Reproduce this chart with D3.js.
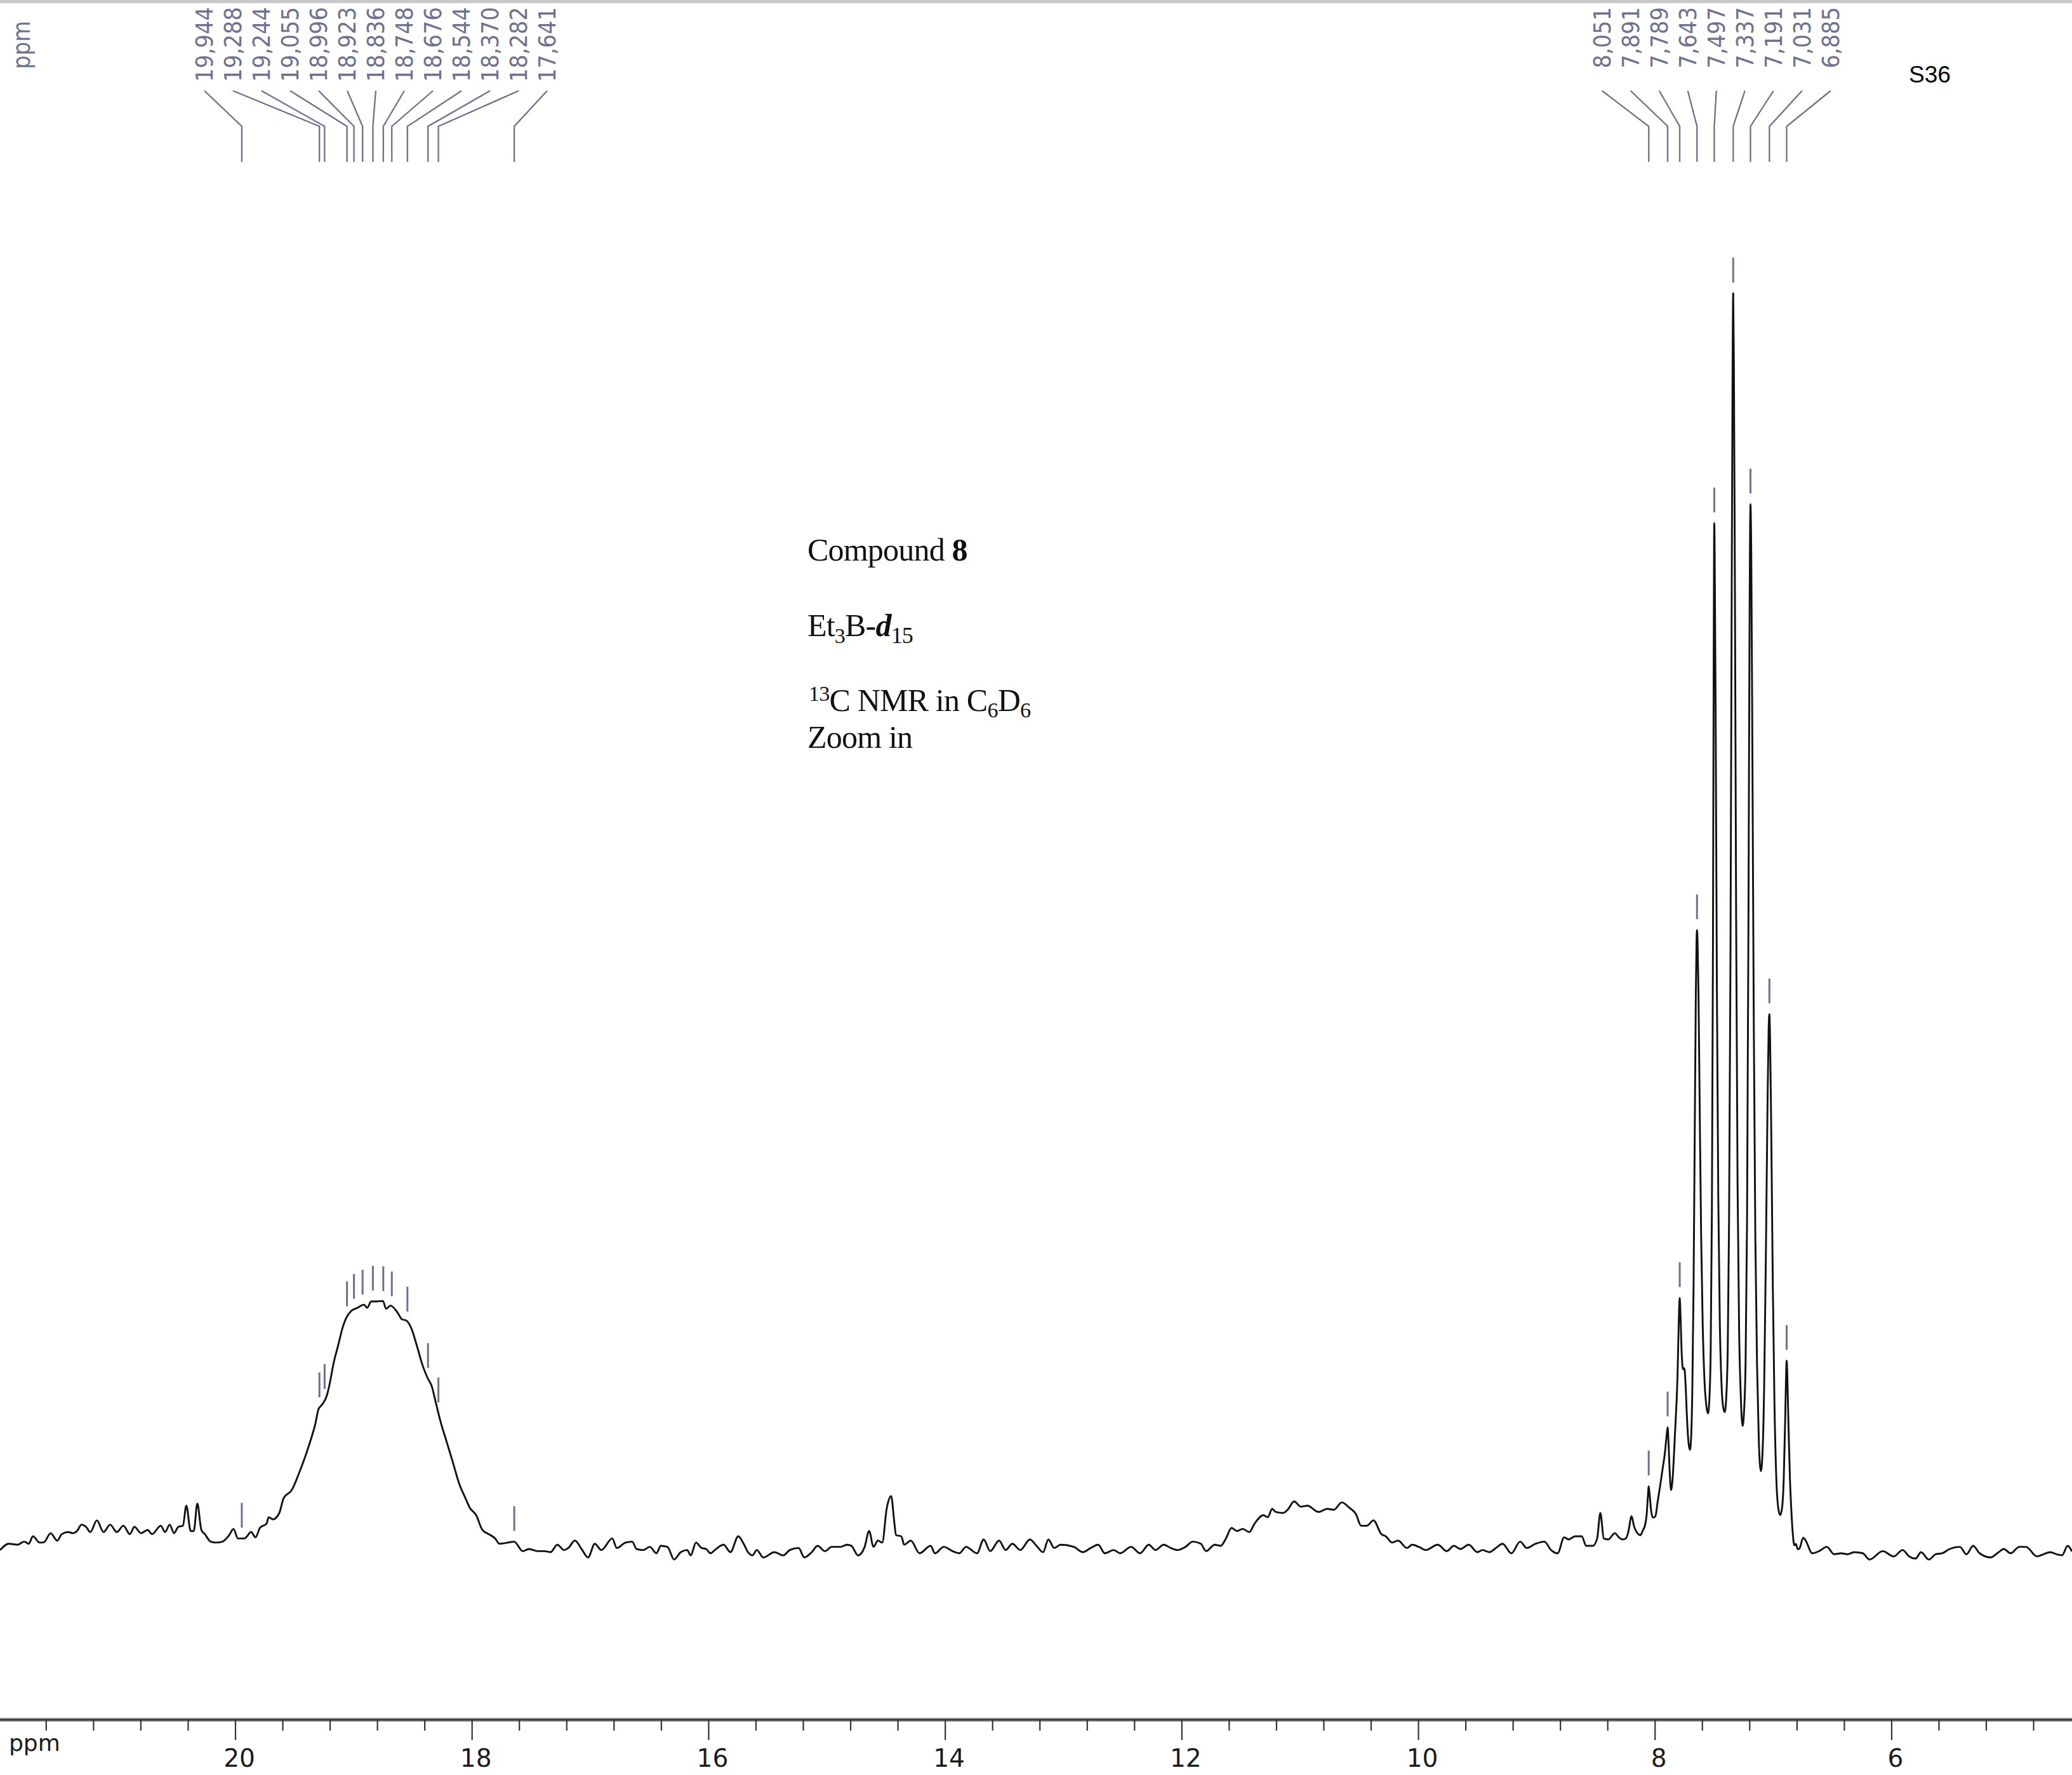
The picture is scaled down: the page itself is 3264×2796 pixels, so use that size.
<!DOCTYPE html>
<html><head><meta charset="utf-8">
<script src="https://cdn.jsdelivr.net/npm/d3@7"></script>
<style>html,body{margin:0;padding:0;background:#fff;}svg{display:block;}</style>
</head><body>
<script>
// ---------------- DATA (ppm, relative intensity) ----------------
const baselineLeft = [[21.988,-0.09],[21.913,0.42],[21.839,0.34],[21.783,0.59],[21.746,0.42],[21.709,1.01],[21.653,0.51],[21.616,0.54],[21.560,1.26],[21.504,0.67],[21.466,1.18],[21.411,1.35],[21.374,1.26],[21.337,1.43],[21.299,1.94],[21.262,1.77],[21.224,1.35],[21.169,2.28],[21.113,1.35],[21.057,1.94],[21.001,1.35],[20.945,1.85],[20.890,1.18],[20.852,1.77],[20.796,1.26],[20.740,1.52],[20.703,1.18],[20.629,1.85],[20.592,1.35],[20.554,1.94],[20.517,1.26],[20.480,1.77],[20.442,1.85],[20.413,3.45],[20.376,1.43],[20.350,1.43],[20.320,3.62],[20.286,1.52],[20.256,1.18],[20.208,0.59],[20.164,0.51],[20.107,0.59],[20.051,1.10],[20.014,1.60],[19.977,0.84],[19.922,0.84],[19.865,1.35],[19.828,0.93],[19.791,1.68],[19.735,2.02],[19.717,2.53],[19.681,2.36],[19.627,2.87]];
const broadPeak = [[19.591,4.04],[19.520,4.72],[19.466,5.90],[19.412,7.25],[19.359,8.76],[19.323,9.94],[19.296,11.12],[19.269,11.46],[19.225,12.22],[19.198,13.31],[19.171,14.66],[19.126,16.35],[19.090,17.69],[19.063,18.37],[19.019,18.96],[18.965,19.21],[18.912,19.46],[18.885,19.21],[18.849,19.72],[18.804,19.72],[18.751,19.75],[18.724,19.13],[18.688,19.38],[18.625,18.79],[18.590,18.29],[18.554,18.20],[18.509,17.53],[18.464,16.18],[18.411,14.49],[18.375,13.65],[18.339,12.98],[18.303,11.63],[18.268,10.28],[18.214,8.59],[18.160,6.91],[18.107,5.22],[18.053,4.04],[18.017,3.29],[17.963,2.69],[17.910,1.52],[17.856,1.18],[17.802,0.84],[17.767,0.42],[17.695,0.51],[17.642,0.59],[17.570,-0.17],[17.517,0.0],[17.444,-0.17]];
const baselineMid = [[17.389,-0.17],[17.333,-0.25],[17.277,0.34],[17.221,-0.08],[17.184,0.08],[17.128,0.67],[17.072,0.0],[17.017,-0.67],[16.960,0.42],[16.905,-0.08],[16.812,0.84],[16.775,0.08],[16.700,0.51],[16.644,0.59],[16.607,0.0],[16.551,-0.08],[16.495,0.17],[16.439,-0.34],[16.402,0.25],[16.346,0.17],[16.290,-0.84],[16.234,-0.25],[16.179,-0.08],[16.149,-0.51],[16.105,0.51],[16.057,0.08],[16.019,0.0],[15.982,-0.34],[15.945,-0.08],[15.871,0.34],[15.814,-0.25],[15.747,1.01],[15.702,0.42],[15.665,-0.25],[15.628,-0.51],[15.591,-0.08],[15.535,-0.67],[15.442,-0.25],[15.368,-0.51],[15.312,-0.08],[15.237,0.08],[15.189,-0.67],[15.126,-0.25],[15.077,0.25],[15.014,-0.17],[14.958,0.17],[14.884,0.17],[14.828,0.34],[14.791,0.25],[14.735,-0.51],[14.679,0.17],[14.641,1.43],[14.604,0.17],[14.567,0.67],[14.530,0.51],[14.493,3.20],[14.455,4.21],[14.429,2.19],[14.414,1.10],[14.369,1.01],[14.345,0.34],[14.289,0.67],[14.215,-0.34],[14.121,0.25],[14.085,-0.34],[14.010,0.17],[13.936,-0.17],[13.878,-0.34],[13.822,0.17],[13.729,-0.34],[13.673,0.76],[13.617,-0.17],[13.543,0.67],[13.487,-0.08],[13.431,0.42],[13.363,-0.08],[13.282,0.76],[13.226,0.25],[13.170,-0.25],[13.126,0.76],[13.077,0.08],[13.022,0.34],[12.910,0.17],[12.835,-0.25],[12.768,0.08],[12.705,0.34],[12.649,-0.34],[12.575,-0.08],[12.519,-0.34],[12.426,0.17],[12.351,-0.34],[12.277,0.34],[12.221,-0.08],[12.151,0.34],[12.091,0.08],[12.035,-0.08],[11.967,0.17],[11.905,0.59],[11.837,0.42],[11.793,-0.17],[11.719,0.34]];
const humpRegion = [[11.669,0.25],[11.625,0.84],[11.577,1.68],[11.532,1.43],[11.483,1.60],[11.427,1.35],[11.383,2.02],[11.308,2.69],[11.271,2.53],[11.234,3.20],[11.204,2.95],[11.141,2.87],[11.104,3.12],[11.048,3.79],[10.992,3.37],[10.936,3.45],[10.843,2.95],[10.768,3.20],[10.713,3.12],[10.645,3.71],[10.582,3.29],[10.526,2.78],[10.482,1.85],[10.434,1.85],[10.378,2.28],[10.311,1.18],[10.274,1.01],[10.219,0.51],[10.170,0.67],[10.095,0.08],[10.051,0.34],[9.995,0.17],[9.937,-0.08],[9.834,0.34],[9.759,-0.17],[9.698,0.25],[9.642,0.0],[9.573,0.34],[9.499,-0.25],[9.455,-0.08],[9.399,-0.25],[9.343,0.08],[9.287,0.42],[9.212,-0.34],[9.138,0.59],[9.082,0.08],[9.007,0.42],[8.933,0.59],[8.877,-0.08],[8.821,-0.34],[8.766,0.93],[8.729,0.76],[8.673,1.01],[8.617,1.01],[8.580,0.25],[8.524,0.25],[8.487,0.84],[8.460,2.87],[8.431,0.84],[8.393,0.76],[8.338,1.26],[8.300,0.9]];
const aromaticRegion = [[8.271,0.76],[8.245,0.84],[8.225,1.3],[8.196,2.6],[8.175,1.8],[8.150,1.3],[8.122,1.1],[8.100,1.5],[8.085,1.8],[8.068,2.8],[8.058,4.2],[8.051,5.0],[8.043,4.3],[8.030,3.0],[8.015,2.5],[7.995,2.6],[7.975,3.8],[7.955,5.0],[7.935,6.3],[7.915,7.6],[7.900,9.0],[7.891,9.7],[7.884,8.5],[7.872,5.8],[7.862,4.7],[7.850,5.5],[7.830,9.0],[7.807,14.0],[7.796,18.5],[7.789,20.0],[7.782,18.5],[7.772,15.5],[7.760,14.3],[7.750,14.4],[7.740,13.2],[7.728,10.5],[7.715,8.5],[7.703,7.9],[7.692,9.0],[7.682,13.0],[7.672,21.0],[7.662,33.0],[7.653,44.0],[7.647,48.3],[7.643,49.3],[7.638,48.3],[7.630,44.0],[7.620,35.0],[7.608,25.0],[7.595,18.0],[7.580,13.5],[7.565,11.5],[7.550,10.8],[7.538,12.0],[7.527,16.0],[7.517,27.0],[7.508,48.0],[7.502,70.0],[7.497,81.7],[7.492,77.0],[7.485,66.0],[7.475,45.0],[7.463,28.0],[7.450,18.0],[7.435,13.0],[7.420,11.2],[7.408,10.9],[7.395,12.2],[7.383,16.0],[7.372,26.0],[7.360,47.0],[7.350,75.0],[7.343,92.0],[7.337,100.0],[7.331,94.0],[7.323,78.0],[7.312,50.0],[7.300,29.0],[7.287,17.5],[7.272,12.0],[7.258,9.8],[7.245,11.0],[7.232,15.0],[7.220,26.0],[7.208,50.0],[7.199,73.0],[7.191,83.2],[7.184,79.0],[7.175,64.0],[7.163,42.0],[7.150,25.0],[7.135,14.5],[7.120,8.5],[7.103,6.2],[7.090,7.5],[7.075,13.0],[7.060,24.0],[7.046,36.0],[7.037,41.5],[7.031,42.6],[7.025,40.5],[7.015,33.0],[7.002,21.0],[6.988,11.5],[6.972,5.5],[6.955,3.2],[6.940,2.7],[6.925,3.2],[6.910,5.5],[6.897,10.5],[6.889,14.2],[6.885,15.0],[6.880,14.0],[6.870,10.0],[6.858,5.8],[6.845,3.0],[6.833,1.2],[6.820,0.3],[6.806,0.4],[6.793,0.0]];
const baselineRight = [[6.780,0.0],[6.745,0.9],[6.724,0.67],[6.669,-0.34],[6.611,-0.17],[6.546,0.17],[6.483,-0.42],[6.426,-0.34],[6.371,-0.42],[6.315,-0.25],[6.241,-0.34],[6.185,-0.84],[6.073,-0.17],[5.980,-0.59],[5.905,-0.08],[5.850,-0.59],[5.794,-0.76],[5.750,-0.25],[5.682,-0.84],[5.626,-0.42],[5.570,-0.34],[5.508,0.0],[5.421,0.17],[5.365,-0.42],[5.309,0.25],[5.254,-0.34],[5.160,-0.67],[5.105,-0.34],[5.048,0.0],[4.993,-0.34],[4.918,0.17],[4.863,0.17],[4.769,-0.59],[4.714,-0.42],[4.657,-0.25],[4.602,-0.42],[4.557,-0.5],[4.510,0.25],[4.473,-0.2]];

const leftPeaks  = [19.944,19.288,19.244,19.055,18.996,18.923,18.836,18.748,18.676,18.544,18.370,18.282,17.641];
const rightPeaks = [8.051,7.891,7.789,7.643,7.497,7.337,7.191,7.031,6.885];

const majorTicks = [20,18,16,14,12,10,8,6];
const minorStep = 0.4;
const axisLabel = "ppm";
const pageLabel = "S36";

// ---------------- LAYOUT ----------------
const W = 3264, H = 2796;
const x = d3.scaleLinear().domain([21.988, 4.473]).range([0, W]);
const y = d3.scaleLinear().domain([0, 100]).range([2440, 462]);
const axisY = 2709;
const labelColor = "#6d7091";

const svg = d3.select("body").append("svg").attr("width", W).attr("height", H)
  .style("font-family", "'DejaVu Sans', sans-serif");

// top gray band
svg.append("rect").attr("x",0).attr("y",0).attr("width",W).attr("height",5).attr("fill","#c9c9c9");

// spectrum
const spectrum = [].concat(baselineLeft, broadPeak, baselineMid, humpRegion, aromaticRegion, baselineRight)
  .sort((a,b) => b[0]-a[0]);
const line = d3.line().x(d => x(d[0])).y(d => y(d[1])).curve(d3.curveMonotoneX);
svg.append("path").datum(spectrum).attr("d", line)
  .attr("fill","none").attr("stroke","#111").attr("stroke-width",2.9).attr("stroke-linejoin","round");

function intensityAt(p){
  for (let i=0;i<spectrum.length-1;i++){
    const a=spectrum[i], b=spectrum[i+1];
    if (p<=a[0] && p>=b[0]){ const t=(a[0]-p)/(a[0]-b[0]); return a[1]+(b[1]-a[1])*t; }
  }
  return 0;
}

// bottom axis
svg.append("line").attr("x1",0).attr("x2",W).attr("y1",axisY).attr("y2",axisY)
  .attr("stroke","#9a9a9a").attr("stroke-width",6);
svg.append("line").attr("x1",0).attr("x2",W).attr("y1",axisY).attr("y2",axisY)
  .attr("stroke","#333").attr("stroke-width",2.6);

const minorTicks = d3.range(21.6, 4.7, -minorStep).map(v => +v.toFixed(1))
  .filter(v => !majorTicks.some(m => Math.abs(m - v) < 1e-6));
const gMinor = svg.append("g").attr("transform",`translate(0,${axisY})`)
  .call(d3.axisBottom(x).tickValues(minorTicks).tickSize(17).tickSizeOuter(0).tickFormat(""));
const gMajor = svg.append("g").attr("transform",`translate(0,${axisY})`)
  .call(d3.axisBottom(x).tickValues(majorTicks).tickSize(32).tickSizeOuter(0).tickFormat(d3.format("d")));
[gMinor, gMajor].forEach(g => {
  g.select(".domain").remove();
  g.selectAll(".tick line").attr("stroke","#333").attr("stroke-width",2.2);
});
gMajor.selectAll(".tick text").attr("y", 2783-axisY).attr("dy",0).attr("dx",6)
  .attr("font-size",39).attr("fill","#1a1a1a").style("font-family","'DejaVu Sans', sans-serif");
svg.append("text").attr("x",14).attr("y",2758).attr("font-size",36).attr("fill","#1a1a1a").text(axisLabel);

// peak labels & connectors
const fmt = d => d3.format(".3f")(d).replace(".", ",");
const pitch = 45;
function drawCluster(peaks){
  const xs = peaks.map(p => x(p));
  const cx = d3.mean(xs);
  const n = peaks.length;
  const g = svg.append("g");
  peaks.forEach((p,i) => {
    const lx = cx + (i - (n-1)/2) * pitch;
    const px = x(p);
    g.append("path").attr("d", `M${lx},143 L${px},199 L${px},255`)
      .attr("fill","none").attr("stroke",labelColor).attr("stroke-width",2.3);
    g.append("text").attr("transform",`translate(${lx},11) rotate(-90)`)
      .attr("text-anchor","end").attr("dy","0.36em")
      .style("font-family","'DejaVu Sans Condensed','DejaVu Sans',sans-serif").style("font-stretch","condensed")
      .attr("font-size",37.5).attr("fill",labelColor).text(fmt(p));
    const yb = y(intensityAt(p)) - 17;
    g.append("line").attr("x1",px).attr("x2",px).attr("y1",yb).attr("y2",yb-39)
      .attr("stroke",labelColor).attr("stroke-width",3);
  });
}
drawCluster(leftPeaks);
drawCluster(rightPeaks);

// top-left ppm
svg.append("text").attr("transform","translate(47,33) rotate(-90)").attr("text-anchor","end")
  .style("font-family","'DejaVu Sans Condensed','DejaVu Sans',sans-serif").style("font-stretch","condensed")
  .attr("font-size",37.5).attr("fill",labelColor).text(axisLabel);

// page label
svg.append("text").attr("x",3007).attr("y",130).attr("font-size",37)
  .style("font-family","'Liberation Sans', Arial, sans-serif").attr("fill","#000").text(pageLabel);

// annotation block
const tb = svg.append("g").style("font-family","'Liberation Serif','Times New Roman',serif")
  .attr("font-size",50).attr("fill","#111").attr("letter-spacing",-0.8);
let t = tb.append("text").attr("x",1272).attr("y",883);
t.append("tspan").text("Compound ");
t.append("tspan").attr("font-weight","bold").text("8");
t = tb.append("text").attr("x",1272).attr("y",1002);
t.append("tspan").text("Et");
t.append("tspan").attr("font-size",34).attr("dy",11).text("3");
t.append("tspan").attr("dy",-11).text("B-");
t.append("tspan").attr("font-style","italic").attr("font-weight","bold").text("d");
t.append("tspan").attr("font-size",36).attr("dy",11).text("15");
t = tb.append("text").attr("x",1274).attr("y",1120);
t.append("tspan").attr("font-size",34).attr("dy",-16).text("13");
t.append("tspan").attr("dy",16).text("C NMR in C");
t.append("tspan").attr("font-size",34).attr("dy",10).text("6");
t.append("tspan").attr("dy",-10).text("D");
t.append("tspan").attr("font-size",34).attr("dy",10).text("6");
tb.append("text").attr("x",1272).attr("y",1178).text("Zoom in");
</script>
</body></html>
